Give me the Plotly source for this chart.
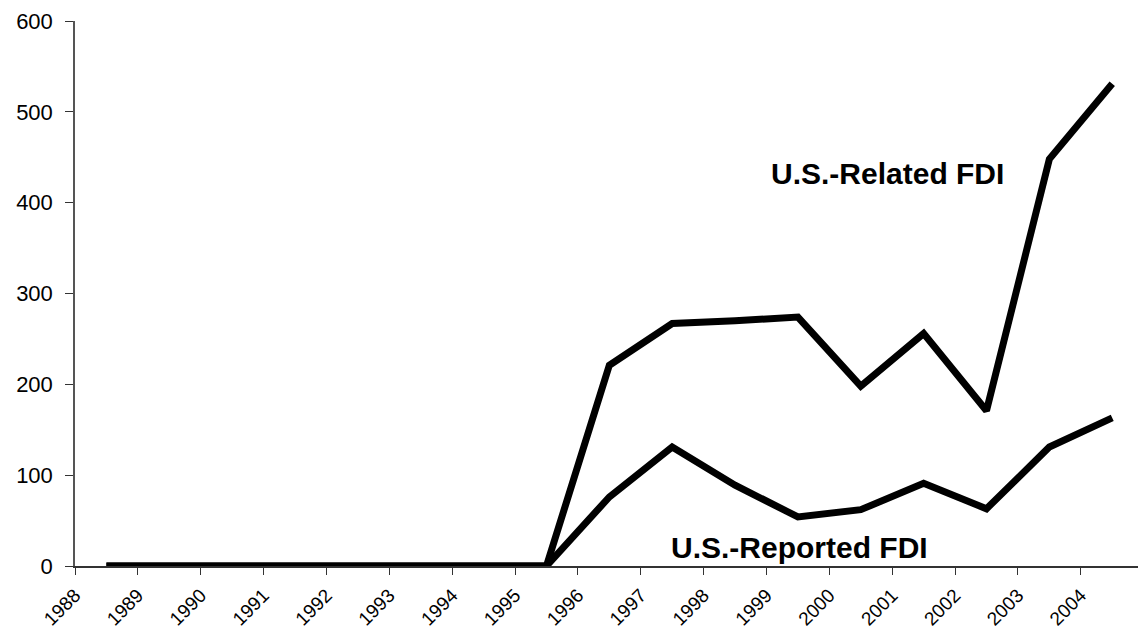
import plotly.graph_objects as go

years = ["1988", "1989", "1990", "1991", "1992", "1993", "1994", "1995", "1996",
         "1997", "1998", "1999", "2000", "2001", "2002", "2003", "2004"]
us_related_fdi = [0, 0, 0, 0, 0, 0, 0, 0, 221, 267, 270, 274, 198, 256, 171, 448, 531]
us_reported_fdi = [0, 0, 0, 0, 0, 0, 0, 0, 76, 131, 89, 54, 62, 91, 63, 131, 163]

# category centres sit halfway between the year tick marks (Excel-style axis)
x_pos = [i + 0.5 for i in range(len(years))]
tick_pos = list(range(len(years)))

fig = go.Figure()
fig.add_trace(go.Scatter(x=x_pos, y=us_related_fdi, mode="lines",
                         line=dict(color="black", width=7), name="U.S.-Related FDI",
                         showlegend=False))
fig.add_trace(go.Scatter(x=x_pos, y=us_reported_fdi, mode="lines",
                         line=dict(color="black", width=7), name="U.S.-Reported FDI",
                         showlegend=False))

font_family = "Arial, 'Liberation Sans', sans-serif"

fig.add_annotation(x=12.93, y=432, xref="x", yref="y", text="<b>U.S.-Related FDI</b>",
                   showarrow=False, font=dict(family=font_family, size=30, color="black"))
fig.add_annotation(x=11.53, y=20, xref="x", yref="y", text="<b>U.S.-Reported FDI</b>",
                   showarrow=False, font=dict(family=font_family, size=30, color="black"))

fig.update_layout(
    width=1138, height=635,
    margin=dict(l=75, r=0, t=21, b=69, autoexpand=False),
    plot_bgcolor="white", paper_bgcolor="white",
    font=dict(family=font_family, color="black"),
    xaxis=dict(range=[0, 16.91], tickmode="array", tickvals=tick_pos, ticktext=years,
               tickangle=-45, ticks="outside", ticklen=7, tickcolor="#333",
               ticklabelstandoff=2,
               showline=True, linecolor="#333", linewidth=1.5, showgrid=False,
               zeroline=False, automargin=False,
               tickfont=dict(size=19, family=font_family, color="black")),
    yaxis=dict(range=[0, 600], tickmode="array", tickvals=[0, 100, 200, 300, 400, 500, 600],
               ticks="outside", ticklen=8, tickcolor="#333", ticklabelstandoff=8,
               showline=True, linecolor="#555", linewidth=1.5, showgrid=False,
               zeroline=False, automargin=False,
               tickfont=dict(size=22, family=font_family, color="black")),
)

fig.write_html("out.html", config={"displayModeBar": False},
               post_script="document.body.style.margin='0';document.body.style.overflow='hidden';")
